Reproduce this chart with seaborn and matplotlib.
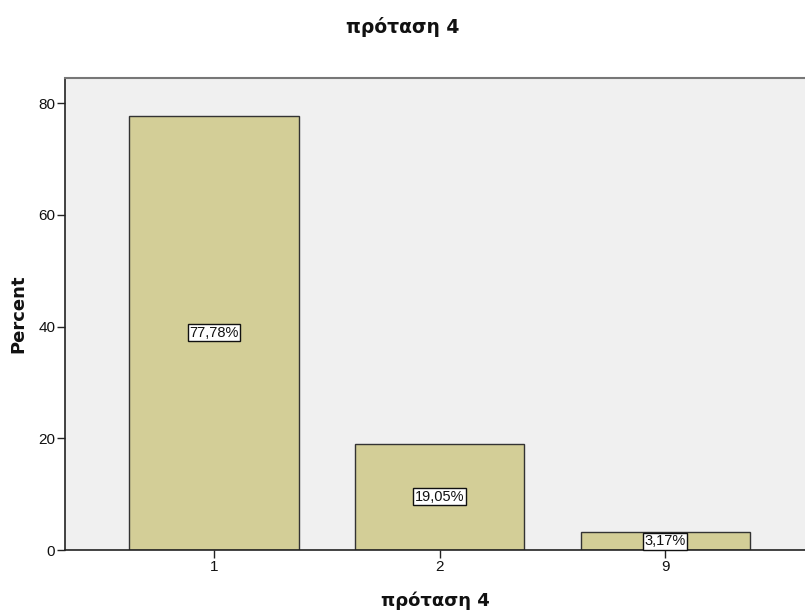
import matplotlib
matplotlib.use("Agg")
import matplotlib.pyplot as plt
import seaborn as sns
import pandas as pd

# data
categories = ["1", "2", "9"]
percents = [77.78, 19.05, 3.17]
yticks = [0, 20, 40, 60, 80]

sns.set_theme(style="white")
plt.rcParams["font.family"] = ["Liberation Sans", "DejaVu Sans"]

df = pd.DataFrame({"cat": categories, "pct": percents})

fig = plt.figure(figsize=(8.05, 6.14), dpi=100)
ax = fig.add_axes([65 / 805, 1 - 550 / 614, 1 - 65 / 805, (550 - 78) / 614])
ax.set_facecolor("#f0f0f0")

sns.barplot(data=df, x="cat", y="pct", ax=ax, color="#d3ce97", saturation=1,
            width=0.75, edgecolor="#333333", linewidth=1)

for i, v in enumerate(percents):
    ax.text(i, v / 2, f"{v:.2f}%".replace(".", ","), ha="center", va="center",
            fontsize=10.5, color="#111111",
            bbox=dict(boxstyle="square,pad=0.1", facecolor="white",
                      edgecolor="#111111", linewidth=1))

ax.set_xlim(-0.66, 2.62)
ax.set_ylim(0, 84.5)
ax.set_yticks(yticks)
ax.set_yticklabels([str(t) for t in yticks])

for s in ["left", "bottom"]:
    ax.spines[s].set_color("#222222")
    ax.spines[s].set_linewidth(1.2)
ax.spines["top"].set_color("#777777")
ax.spines["top"].set_linewidth(1.5)
ax.spines["right"].set_visible(False)

ax.tick_params(axis="both", which="major", direction="out", length=6, width=1,
               color="#222222", labelsize=11, labelcolor="#111111", pad=1,
               left=True, bottom=True)

bold = dict(family=["DejaVu Sans"], fontweight="bold", color="#111111")
ax.set_xlabel("πρόταση 4", fontsize=13, labelpad=13, **bold)
ax.set_ylabel("Percent", fontsize=13, labelpad=8, **bold)
fig.text(0.5, 1 - 27 / 614, "πρόταση 4", ha="center", va="center",
         fontsize=13.5, **bold)

fig.savefig("out.png", dpi=100)
